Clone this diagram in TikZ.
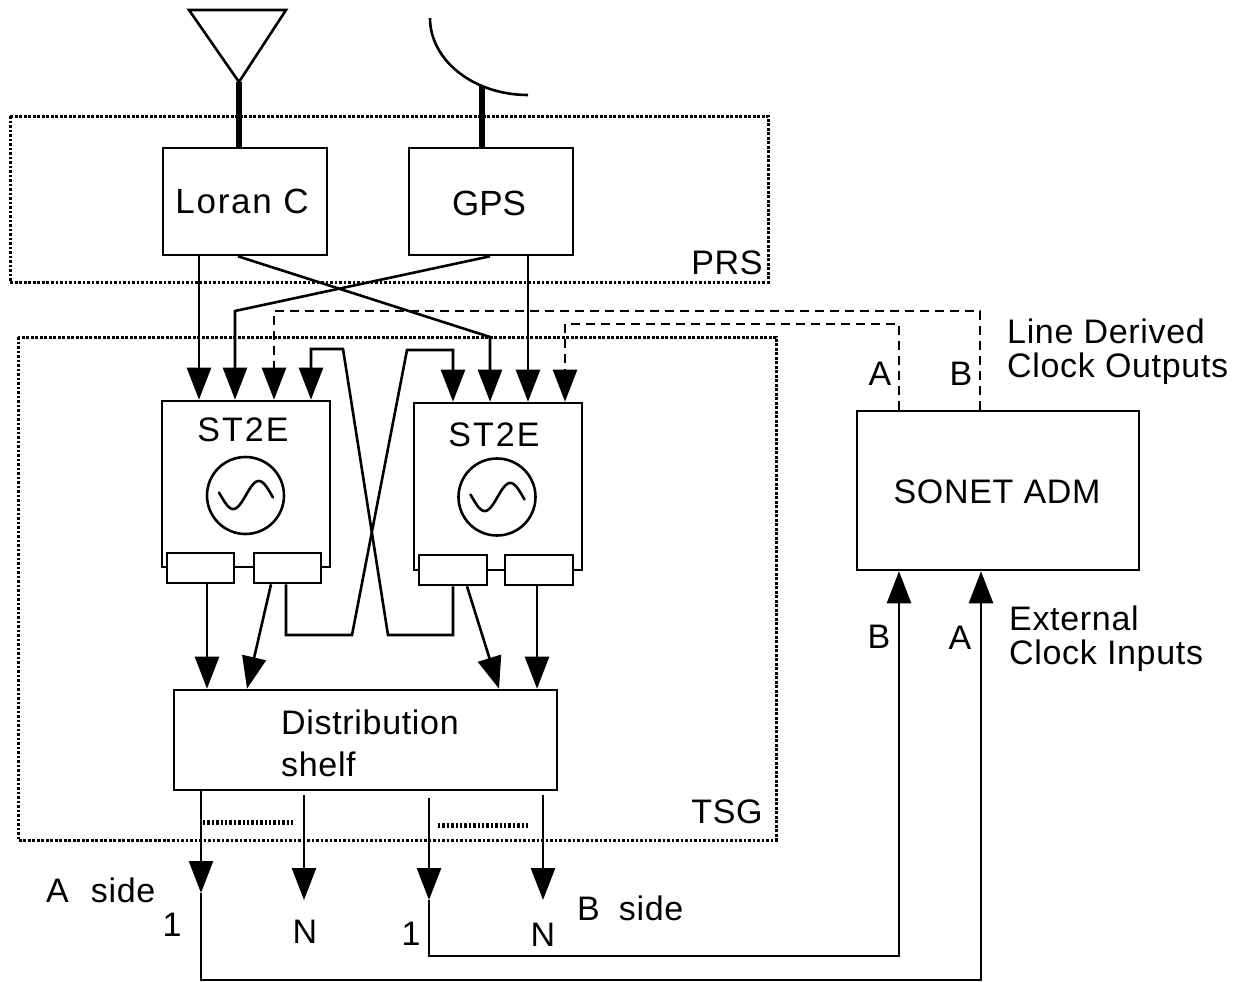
\documentclass[tikz,border=0pt]{standalone}
\usepackage{fontspec}
\setmainfont{Liberation Sans}
\usetikzlibrary{arrows.meta}
\begin{document}
\begin{tikzpicture}[x=1pt,y=-1pt,
  box/.style={draw,line width=2.6pt,fill=white,inner sep=0pt},
  arr/.style={line width=2.6pt,-{Triangle[length=32pt,width=24pt]}},
  ln/.style={line width=2.6pt},
  frame/.style={line width=3pt,dash pattern=on 2.6pt off 1.9pt,black},
  dsh/.style={line width=2.6pt,dash pattern=on 9pt off 6pt},
  heavydot/.style={line width=5pt,dash pattern=on 2.4pt off 2pt},
  stem/.style={line width=5.5pt},
  txt/.style={inner sep=0pt,font=\fontsize{34}{40}\selectfont\addfontfeatures{LetterSpace=2}},
  bigtxt/.style={inner sep=0pt,font=\fontsize{35}{40}\selectfont\addfontfeatures{LetterSpace=5}}
]
\useasboundingbox (0,0) rectangle (1239,982);

% frames
\draw[frame] (10,116) rectangle (768,282);
\draw[frame] (18,337) rectangle (776,840);
\node[txt] (prs) at (727,263) {PRS};
\node[txt] (tsg) at (727,812) {TSG};

% boxes
\node[box,minimum width=164pt,minimum height=107pt] (loran) at (245,201.5) {};
\node[bigtxt] (lorantxt) at (242,201) {Loran C};
\node[box,minimum width=164pt,minimum height=107pt] (gps) at (491,201.5) {};
\node[txt,font=\fontsize{35}{40}\selectfont] (gpstxt) at (489,203) {GPS};

\node[box,minimum width=168pt,minimum height=166pt] (st1) at (246,484) {};
\node[box,minimum width=168pt,minimum height=167pt] (st2) at (498,486.5) {};
\node[txt,font=\fontsize{34}{38}\selectfont\addfontfeatures{LetterSpace=6}] (st1txt) at (243,430) {ST2E};
\node[txt,font=\fontsize{34}{38}\selectfont\addfontfeatures{LetterSpace=6}] (st2txt) at (494,435) {ST2E};
\node[box,minimum width=67pt,minimum height=30pt] (a1) at (200.5,568) {};
\node[box,minimum width=67pt,minimum height=30pt] (a2) at (287.5,568) {};
\node[box,minimum width=68pt,minimum height=30pt] (b1) at (453,570) {};
\node[box,minimum width=68pt,minimum height=30pt] (b2) at (539,570) {};

% oscillators
\node[draw,line width=2.6pt,circle,minimum size=77pt,inner sep=0pt] (osc1) at (245.5,495.5) {};
\node[draw,line width=2.6pt,circle,minimum size=77pt,inner sep=0pt] (osc2) at (497,497) {};
\draw[ln,line cap=round] plot[domain=-27:27,samples=60,smooth] ({246+\x},{495-14*sin(\x/27*190)});
\draw[ln,line cap=round] plot[domain=-27:27,samples=60,smooth] ({497.5+\x},{497-14*sin(\x/27*190)});

\node[box,minimum width=383pt,minimum height=100pt] (shelf) at (365.5,740) {};
\node[txt,anchor=west] (shelf1) at (281,722) {Distribution};
\node[txt,anchor=west] (shelf2) at (281,764) {shelf};

\node[box,minimum width=282pt,minimum height=159pt] (sonet) at (998,490.5) {};
\node[txt,font=\fontsize{34}{38}\selectfont\addfontfeatures{LetterSpace=2}] (sonettxt) at (997,492) {SONET ADM};

% antennas
\draw[ln,line join=miter] (189,10) -- (286,10) -- (239,82) -- cycle;
\draw[stem] (239,82) -- (loran.north -| 239,0);
\draw[ln] (430,18) arc[start angle=180,end angle=90,x radius=98,y radius=77];
\draw[stem] (482,86) -- (gps.north -| 482,0);

% PRS to ST2E
\draw[arr] (loran.south -| 199,0) -- (st1.north -| 199,0);
\draw[arr] (loran.south -| 238,0) -- (490,337) -- (st2.north -| 490,0);
\draw[arr] (gps.south -| 490,0) -- (235,311) -- (st1.north -| 235,0);
\draw[arr] (gps.south -| 528,0) -- (st2.north -| 528,0);

% line derived clock outputs
\draw[dsh,arr] (sonet.north -| 980,0) -- (980,311) -- (274,311) -- (st1.north -| 274,0);
\draw[dsh,arr] (sonet.north -| 899,0) -- (899,324) -- (565,324) -- (st2.north -| 565,0);

% cross connections
\draw[arr] (a2.south -| 286,0) |- (352,635) -- (407,350) -| (st2.north -| 453,0);
\draw[arr] (b1.south) |- (388,635) -- (343,349) -| (st1.north -| 311,0);

% to shelf
\draw[arr] (a1.south -| 207,0) -- (shelf.north -| 207,0);
\draw[arr] (a2.south -| 271,0) -- (shelf.north -| 247,0);
\draw[arr] (b1.south -| 467,0) -- (shelf.north -| 499,0);
\draw[arr] (b2.south -| 537,0) -- (shelf.north -| 537,0);

% outputs
\coordinate (o1) at (201,893);
\coordinate (o2) at (304,900);
\coordinate (o3) at (429,900);
\coordinate (o4) at (543,900);
\draw[arr] (shelf.south -| o1) -- (o1);
\draw[arr] ([yshift=-4pt]shelf.south -| o2) -- (o2);
\draw[arr] ([yshift=-7pt]shelf.south -| o3) -- (o3);
\draw[arr] ([yshift=-4pt]shelf.south -| o4) -- (o4);
\draw[arr] (o1) -- (201,980) -| (sonet.south -| 981,0);
\draw[arr] (o3) -- (429,956) -| (sonet.south -| 899,0);
\draw[heavydot] (203,822) -- (294,822);
\draw[heavydot] (438,825) -- (529,825);

% labels
\node[txt] (la) at (880,374) {A};
\node[txt] (lb) at (961,374) {B};
\node[txt,anchor=west] (ld1) at (1007,331) {Line Derived};
\node[txt,anchor=west] (ld2) at (1007,369) {Clock Outputs};
\node[txt] (eb) at (879,637) {B};
\node[txt] (ea) at (960,638) {A};
\node[txt,anchor=west] (ec1) at (1009,618) {External};
\node[txt,anchor=west] (ec2) at (1009,656) {Clock Inputs};
\node[txt,anchor=west] (aside) at (46,890) {A\hspace{22pt}side};
\node[txt,anchor=west] (bside) at (577,908) {B\hspace{19pt}side};
\node[txt] (n1a) at (172,925) {1};
\node[txt] (nNa) at (305,932) {N};
\node[txt] (n1b) at (411,934) {1};
\node[txt] (nNb) at (543,935) {N};
\end{tikzpicture}
\end{document}
